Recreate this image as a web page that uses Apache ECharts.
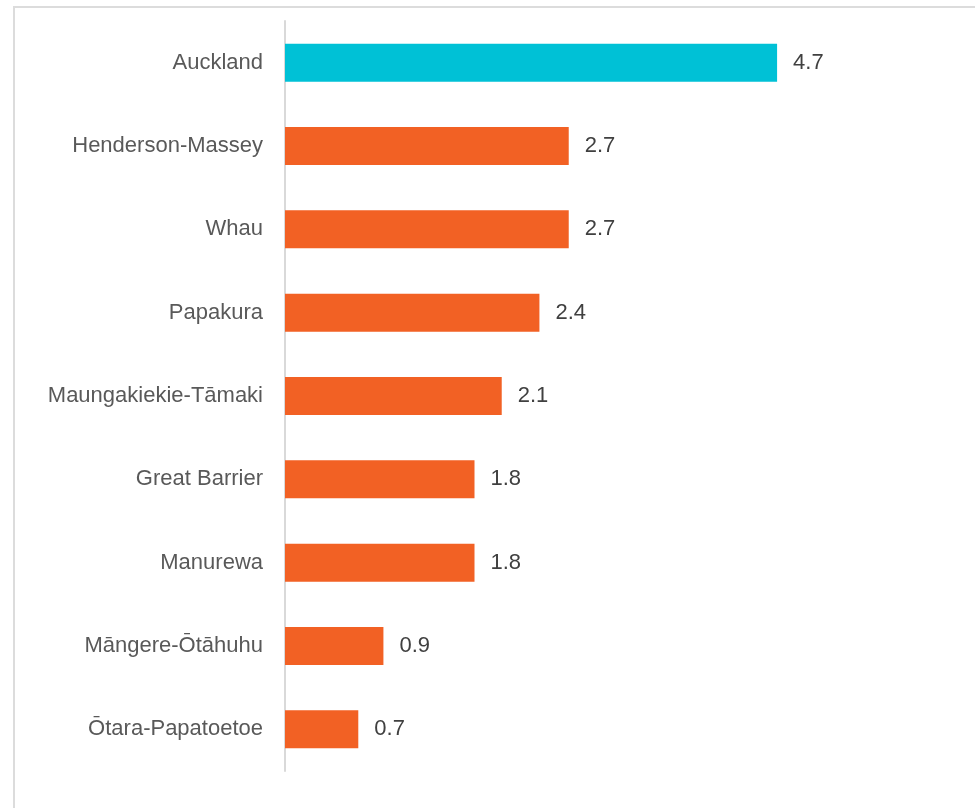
<!DOCTYPE html>
<html>
<head>
<meta charset="utf-8">
<script src="https://cdn.jsdelivr.net/npm/echarts@6/dist/echarts.min.js"></script>
<style>
  html, body { margin: 0; padding: 0; background: #fff; overflow: hidden; }
  .frame {
    position: absolute; left: 13px; top: 6px; width: 1100px; height: 900px;
    border: 2px solid #dcdcdc;
  }
  #main { position: absolute; left: 0; top: 0; width: 975px; height: 808px; }
</style>
</head>
<body>
<div class="frame"></div>
<div id="main"></div>
<script>
// 数据 (bar lengths, labels shown to 1 decimal)
const categories = ['Auckland', 'Henderson-Massey', 'Whau', 'Papakura', 'Maungakiekie-Tāmaki',
  'Great Barrier', 'Manurewa', 'Māngere-Ōtāhuhu', 'Ōtara-Papatoetoe'];
const values = [4.7, 2.71, 2.71, 2.43, 2.07, 1.81, 1.81, 0.94, 0.7];
const highlight = 'Auckland';

(function () {
  let mychart = echarts.init(document.getElementById('main'))
  let font = '"Liberation Sans", "Open Sans", sans-serif'
  let option = {
    animation: false,
    grid: { left: 285, right: 975 - 285 - 523.5, top: 21, bottom: 37, containLabel: false },
    xAxis: {
      type: 'value', min: 0, max: 5, show: false
    },
    yAxis: {
      type: 'category',
      inverse: true,
      data: categories,
      axisLine: { show: true, lineStyle: { color: '#d9d9d9', width: 2 } },
      axisTick: { show: false },
      axisLabel: { color: '#595959', fontSize: 22, fontFamily: font, margin: 22 }
    },
    series: [{
      type: 'bar',
      barWidth: 38,
      data: values.map(function (v, i) {
        return {
          value: v,
          itemStyle: { color: categories[i] === highlight ? '#00c1d6' : '#f26124' }
        }
      }),
      label: {
        show: true, position: 'right', distance: 16,
        color: '#404040', fontSize: 22, fontFamily: font,
        formatter: function (p) { return p.value.toFixed(1) }
      }
    }]
  }
  mychart.setOption(option)
})();
</script>
</body>
</html>
